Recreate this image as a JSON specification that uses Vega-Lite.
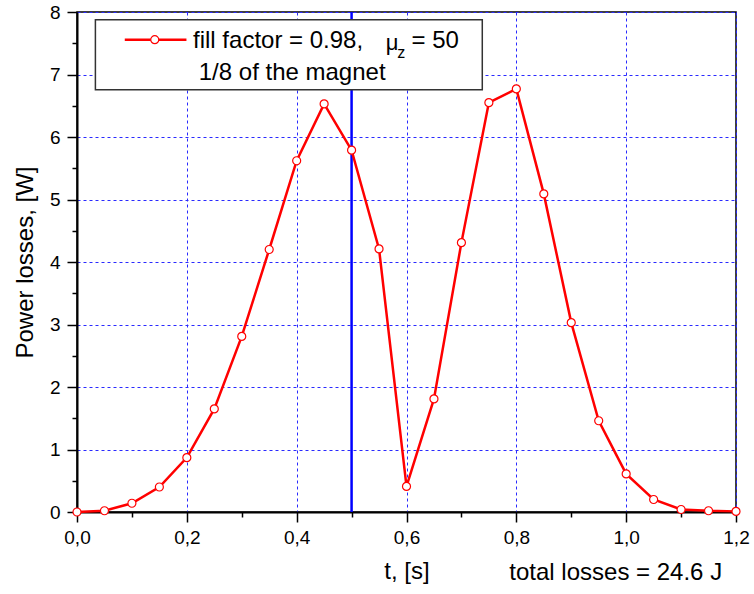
{
  "$schema": "https://vega.github.io/schema/vega-lite/v6.json",
  "width": 659,
  "height": 500,
  "autosize": {"type": "none"},
  "padding": {"left": 77, "top": 12, "right": 18, "bottom": 82},
  "background": "white",
  "config": {
    "font": "Liberation Sans",
    "view": {"stroke": "black", "strokeWidth": 1.5},
    "axis": {
      "domainColor": "black",
      "domainWidth": 2,
      "tickColor": "black",
      "tickWidth": 1.5,
      "labelColor": "black",
      "labelFont": "Liberation Sans",
      "labelFontSize": 19,
      "titleColor": "black",
      "titleFont": "Liberation Sans",
      "titleFontSize": 24,
      "titleFontWeight": "normal",
      "gridColor": "#2a2aff",
      "gridDash": [3, 3],
      "gridWidth": 1
    }
  },
  "datasets": {
    "losses": [
      {"t": 0.00, "P": 0.00},
      {"t": 0.05, "P": 0.02},
      {"t": 0.10, "P": 0.14},
      {"t": 0.15, "P": 0.40},
      {"t": 0.20, "P": 0.87},
      {"t": 0.25, "P": 1.65},
      {"t": 0.30, "P": 2.81},
      {"t": 0.35, "P": 4.20},
      {"t": 0.40, "P": 5.62},
      {"t": 0.45, "P": 6.53},
      {"t": 0.50, "P": 5.79},
      {"t": 0.55, "P": 4.21},
      {"t": 0.60, "P": 0.41},
      {"t": 0.65, "P": 1.81},
      {"t": 0.70, "P": 4.31},
      {"t": 0.75, "P": 6.55},
      {"t": 0.80, "P": 6.77},
      {"t": 0.85, "P": 5.09},
      {"t": 0.90, "P": 3.03},
      {"t": 0.95, "P": 1.46},
      {"t": 1.00, "P": 0.61},
      {"t": 1.05, "P": 0.20},
      {"t": 1.10, "P": 0.04},
      {"t": 1.15, "P": 0.02},
      {"t": 1.20, "P": 0.01}
    ]
  },
  "encoding": {
    "x": {
      "field": "t",
      "type": "quantitative",
      "scale": {"domain": [0, 1.2], "nice": false, "zero": false},
      "axis": {
        "title": "t, [s]",
        "titlePadding": 12,
        "values": [0, 0.1, 0.2, 0.3, 0.4, 0.5, 0.6, 0.7, 0.8, 0.9, 1.0, 1.1, 1.2],
        "labelExpr": "round(datum.value * 10) % 2 == 0 ? replace(format(datum.value, '.1f'), '.', ',') : ''",
        "labelPadding": 6,
        "labelFlush": false,
        "labelOverlap": false,
        "tickSize": {"condition": {"test": "round(datum.value * 10) % 2 == 0", "value": 10}, "value": 5},
        "gridOpacity": {"condition": {"test": "round(datum.value * 10) % 2 == 0", "value": 1}, "value": 0}
      }
    },
    "y": {
      "field": "P",
      "type": "quantitative",
      "scale": {"domain": [0, 8], "nice": false},
      "axis": {
        "title": "Power losses, [W]",
        "titlePadding": 12,
        "values": [0, 0.5, 1, 1.5, 2, 2.5, 3, 3.5, 4, 4.5, 5, 5.5, 6, 6.5, 7, 7.5, 8],
        "labelExpr": "round(datum.value * 2) % 2 == 0 ? format(datum.value, 'd') : ''",
        "labelPadding": 7,
        "labelFlush": false,
        "labelOverlap": false,
        "tickSize": {"condition": {"test": "round(datum.value * 2) % 2 == 0", "value": 10}, "value": 5},
        "gridOpacity": {"condition": {"test": "round(datum.value * 2) % 2 == 0", "value": 1}, "value": 0}
      }
    }
  },
  "layer": [
    {
      "data": {"values": [{"t": 0.5}]},
      "mark": {"type": "rule", "color": "#0000ff", "strokeWidth": 2.5},
      "encoding": {"x": {"field": "t", "type": "quantitative"}, "y": {"value": 0}, "y2": {"value": 500}}
    },
    {
      "data": {"name": "losses"},
      "mark": {"type": "line", "color": "#ff0000", "strokeWidth": 2.5}
    },
    {
      "data": {"name": "losses"},
      "mark": {"type": "point", "shape": "circle", "filled": true, "fill": "white", "stroke": "#ff0000", "strokeWidth": 1.2, "size": 64, "opacity": 1}
    },
    {
      "data": {"values": [{"t": 0.0335, "t2": 0.738, "P": 7.877, "P2": 6.757}]},
      "mark": {"type": "rect", "fill": "white", "stroke": "#333333", "strokeWidth": 1.5},
      "encoding": {
        "x": {"field": "t", "type": "quantitative"},
        "x2": {"field": "t2"},
        "y": {"field": "P", "type": "quantitative"},
        "y2": {"field": "P2"}
      }
    },
    {
      "data": {"values": [{"t": 0.087, "P": 7.557}, {"t": 0.1993, "P": 7.557}]},
      "mark": {"type": "line", "color": "#ff0000", "strokeWidth": 2.5}
    },
    {
      "data": {"values": [{"t": 0.1416, "P": 7.557}]},
      "mark": {"type": "point", "shape": "circle", "filled": true, "fill": "white", "stroke": "#ff0000", "strokeWidth": 1.2, "size": 64, "opacity": 1}
    },
    {
      "data": {"values": [{"t": 0.2113, "P": 7.421, "label": "fill factor = 0.98,"}]},
      "mark": {"type": "text", "align": "left", "baseline": "alphabetic", "fontSize": 24, "color": "black"},
      "encoding": {"text": {"field": "label"}}
    },
    {
      "data": {"values": [{"t": 0.5624, "P": 7.389, "label": "μ"}]},
      "mark": {"type": "text", "align": "left", "baseline": "alphabetic", "fontSize": 22, "color": "black"},
      "encoding": {"text": {"field": "label"}}
    },
    {
      "data": {"values": [{"t": 0.583, "P": 7.264, "label": "z"}]},
      "mark": {"type": "text", "align": "left", "baseline": "alphabetic", "fontSize": 16, "color": "black"},
      "encoding": {"text": {"field": "label"}}
    },
    {
      "data": {"values": [{"t": 0.609, "P": 7.421, "label": "= 50"}]},
      "mark": {"type": "text", "align": "left", "baseline": "alphabetic", "fontSize": 24, "color": "black"},
      "encoding": {"text": {"field": "label"}}
    },
    {
      "data": {"values": [{"t": 0.2217, "P": 6.917, "label": "1/8 of the magnet"}]},
      "mark": {"type": "text", "align": "left", "baseline": "alphabetic", "fontSize": 24, "color": "black"},
      "encoding": {"text": {"field": "label"}}
    },
    {
      "data": {"values": [{"t": 0.981, "P": -1.083, "label": "total losses = 24.6 J"}]},
      "mark": {"type": "text", "align": "center", "baseline": "alphabetic", "fontSize": 24, "color": "black"},
      "encoding": {"text": {"field": "label"}}
    }
  ]
}
